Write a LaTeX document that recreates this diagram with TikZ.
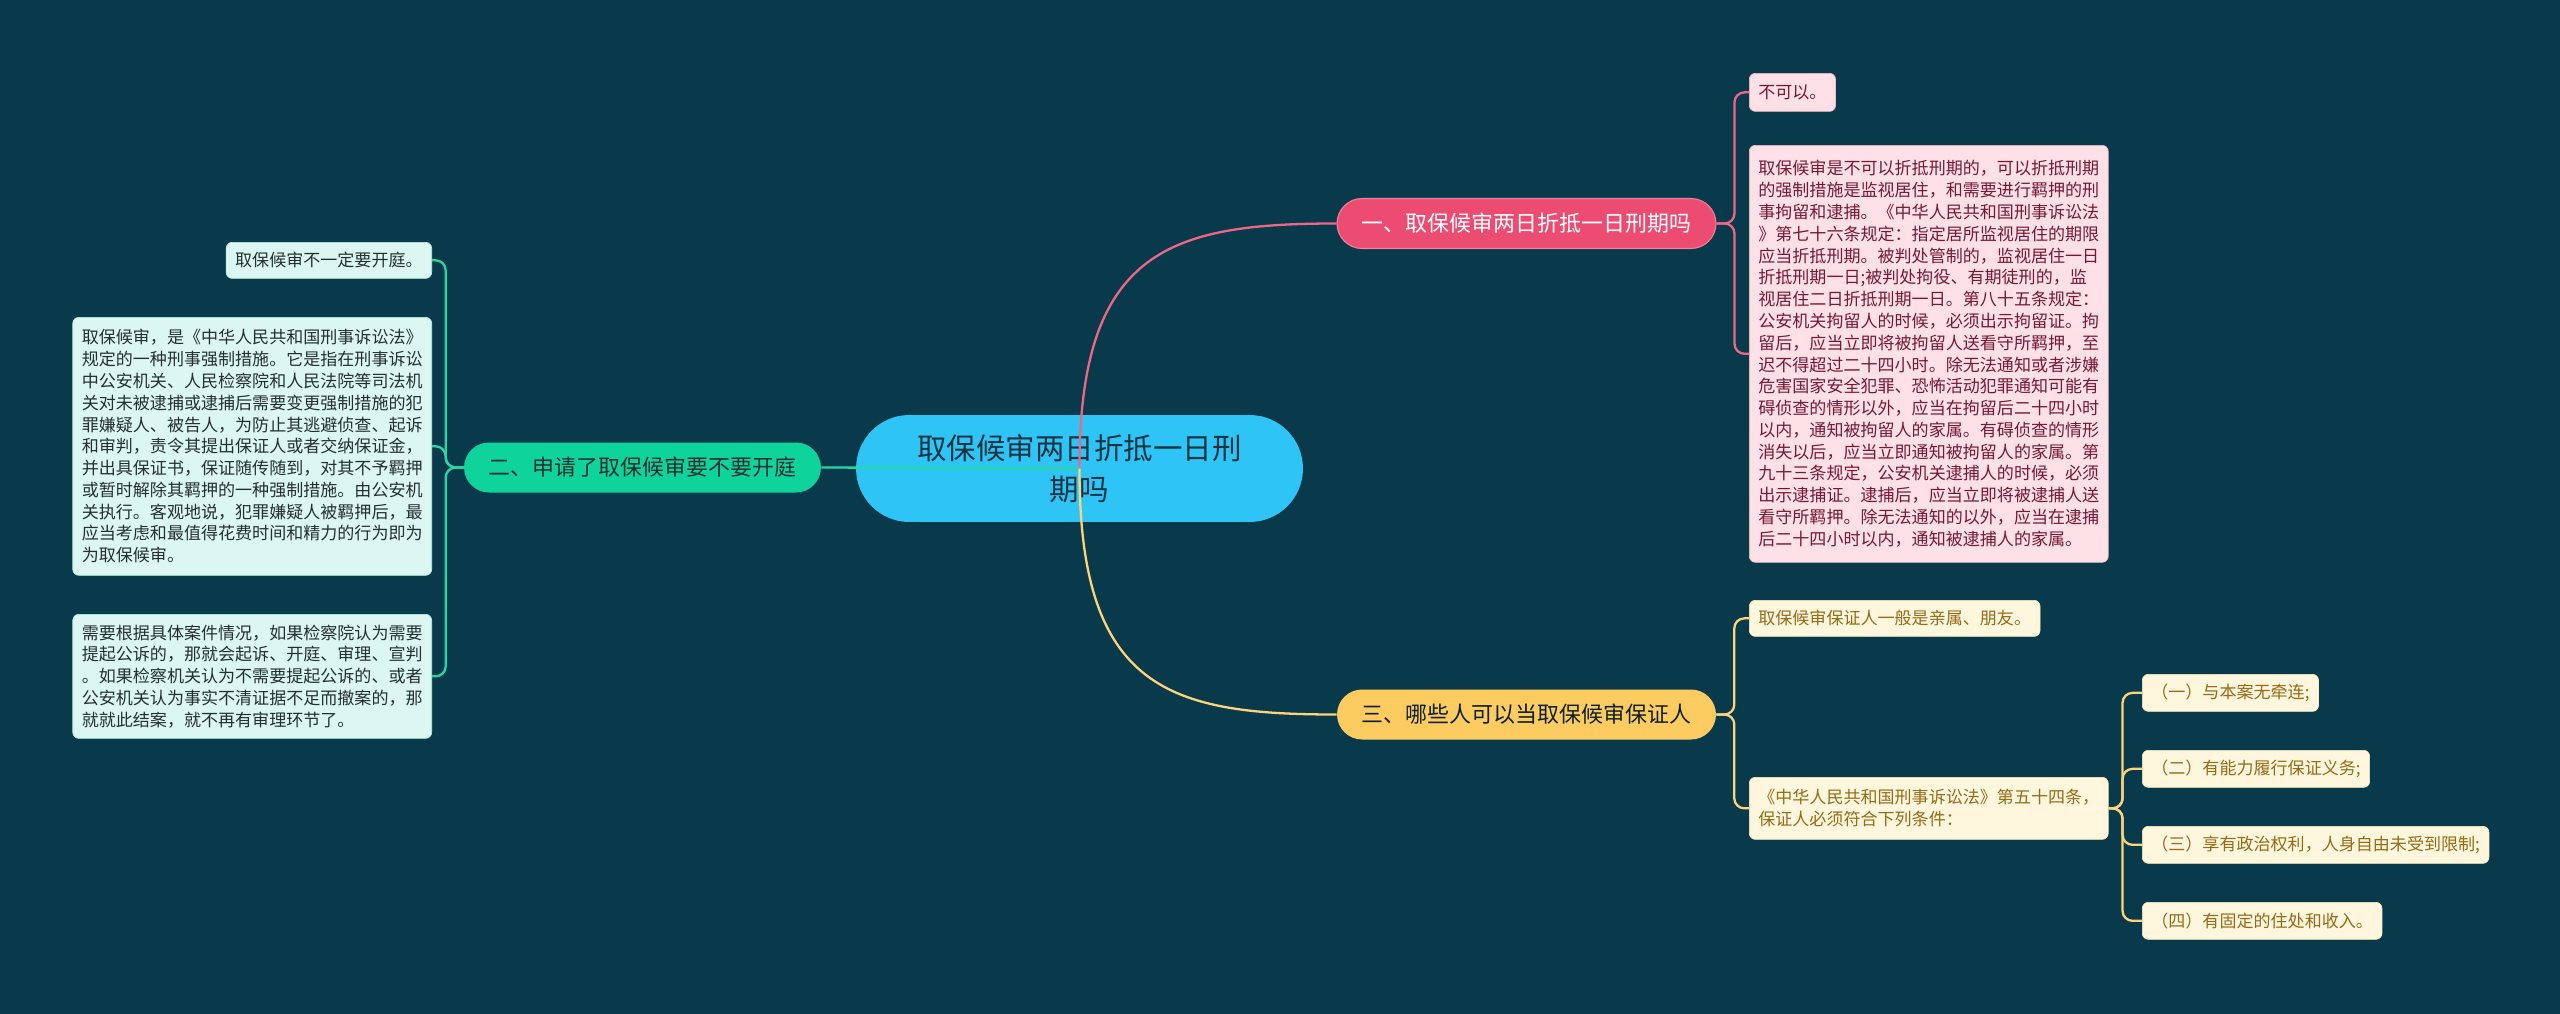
\documentclass[tikz,border=0pt]{standalone}
\usepackage{fontspec}
\setmainfont{Noto Sans CJK SC}
\usetikzlibrary{calc}
\usepackage{xcolor}

\definecolor{bgteal}{RGB}{8,58,76}
\definecolor{rootblue}{RGB}{46,197,246}
\definecolor{rootink}{RGB}{24,52,66}
\definecolor{onepink}{RGB}{236,76,114}
\definecolor{twogreen}{RGB}{14,212,156}
\definecolor{threegold}{RGB}{253,204,96}
\definecolor{pinkleaf}{RGB}{253,225,231}
\definecolor{pinkink}{RGB}{118,24,56}
\definecolor{greenleaf}{RGB}{220,247,241}
\definecolor{greenink}{RGB}{36,48,48}
\definecolor{goldleaf}{RGB}{255,246,222}
\definecolor{goldink}{RGB}{148,108,24}

\tikzset{
  rootnode/.style={fill=rootblue, text=rootink, rounded corners=1.07cm, align=center,
    minimum width=8.94cm, minimum height=2.14cm, font=\fontsize{16.8}{23.2}\selectfont},
  branchnode/.style={rounded corners=0.5cm, minimum height=1.0cm, align=center,
    font=\fontsize{12.5}{15}\selectfont},
  leafnode/.style={rounded corners=0.12cm, align=left, inner xsep=0.18cm, inner ysep=0.1cm,
    font=\fontsize{9.7}{12.4}\selectfont},
  pinkleafnode/.style={leafnode, fill=pinkleaf, draw=onepink!40, line width=0.4pt, text=pinkink},
  greenleafnode/.style={leafnode, fill=greenleaf, draw=twogreen!30, line width=0.4pt, text=greenink},
  goldleafnode/.style={leafnode, fill=goldleaf, draw=threegold!40, line width=0.4pt, text=goldink},
  linkpink/.style={draw=onepink!85!white, line width=1.3pt},
  linkgreen/.style={draw=twogreen!90!white, line width=1.3pt},
  linkgold/.style={draw=threegold!85!white, line width=1.3pt},
}

\begin{document}
\begin{tikzpicture}[x=0.02cm,y=-0.02cm]
		\fill[bgteal] (0,0) rectangle (2560,1014);% background
		\useasboundingbox (0,0) rectangle (2560,1014);

		% root and the three branches
		\node[rootnode] (root) at (1079.5,468.5) {取保候审两日折抵一日刑\\期吗};
		\node[branchnode, fill=onepink, draw=onepink!70!white, line width=0.6pt, text=white,
		  minimum width=7.58cm] (b1) at (1526.5,223.5) {一、取保候审两日折抵一日刑期吗};
		\node[branchnode, fill=twogreen, text=greenink, minimum width=7.14cm] (b2) at (642.5,467.5)
		  {二、申请了取保候审要不要开庭};
		\node[branchnode, fill=threegold, text=rootink!60!black, minimum width=7.58cm] (b3) at (1526.5,714.5)
		  {三、哪些人可以当取保候审保证人};

		% leaves of branch one
		\node[pinkleafnode, anchor=north west, minimum height=0.76cm] (l11) at (1749,73) {不可以。};
		\node[pinkleafnode, anchor=north west, minimum height=8.34cm] (l12) at (1749,145)
		  {取保候审是不可以折抵刑期的，可以折抵刑期\\
		   的强制措施是监视居住，和需要进行羁押的刑\\
		   事拘留和逮捕。《中华人民共和国刑事诉讼法\\
		   》第七十六条规定：指定居所监视居住的期限\\
		   应当折抵刑期。被判处管制的，监视居住一日\\
		   折抵刑期一日;被判处拘役、有期徒刑的，监\\
		   视居住二日折抵刑期一日。第八十五条规定：\\
		   公安机关拘留人的时候，必须出示拘留证。拘\\
		   留后，应当立即将被拘留人送看守所羁押，至\\
		   迟不得超过二十四小时。除无法通知或者涉嫌\\
		   危害国家安全犯罪、恐怖活动犯罪通知可能有\\
		   碍侦查的情形以外，应当在拘留后二十四小时\\
		   以内，通知被拘留人的家属。有碍侦查的情形\\
		   消失以后，应当立即通知被拘留人的家属。第\\
		   九十三条规定，公安机关逮捕人的时候，必须\\
		   出示逮捕证。逮捕后，应当立即将被逮捕人送\\
		   看守所羁押。除无法通知的以外，应当在逮捕\\
		   后二十四小时以内，通知被逮捕人的家属。};

		% leaves of branch two
		\node[greenleafnode, anchor=north east, minimum height=0.72cm] (l21) at (432,242) {取保候审不一定要开庭。};
		\node[greenleafnode, anchor=north east, minimum height=5.16cm] (l22) at (432,317)
		  {取保候审，是《中华人民共和国刑事诉讼法》\\
		   规定的一种刑事强制措施。它是指在刑事诉讼\\
		   中公安机关、人民检察院和人民法院等司法机\\
		   关对未被逮捕或逮捕后需要变更强制措施的犯\\
		   罪嫌疑人、被告人，为防止其逃避侦查、起诉\\
		   和审判，责令其提出保证人或者交纳保证金，\\
		   并出具保证书，保证随传随到，对其不予羁押\\
		   或暂时解除其羁押的一种强制措施。由公安机\\
		   关执行。客观地说，犯罪嫌疑人被羁押后，最\\
		   应当考虑和最值得花费时间和精力的行为即为\\
		   为取保候审。};
		\node[greenleafnode, anchor=north east, minimum height=2.48cm] (l23) at (432,614)
		  {需要根据具体案件情况，如果检察院认为需要\\
		   提起公诉的，那就会起诉、开庭、审理、宣判\\
		   。如果检察机关认为不需要提起公诉的、或者\\
		   公安机关认为事实不清证据不足而撤案的，那\\
		   就就此结案，就不再有审理环节了。};

		% leaves of branch three
		\node[goldleafnode, anchor=north west, minimum height=0.72cm] (l31) at (1749,600)
		  {取保候审保证人一般是亲属、朋友。};
		\node[goldleafnode, anchor=north west, minimum height=1.24cm] (l32) at (1749,777)
		  {《中华人民共和国刑事诉讼法》第五十四条，\\保证人必须符合下列条件：};
		\node[goldleafnode, anchor=north west, minimum height=0.74cm] (s1) at (2142,674) {（一）与本案无牵连;};
		\node[goldleafnode, anchor=north west, minimum height=0.74cm] (s2) at (2142,750) {（二）有能力履行保证义务;};
		\node[goldleafnode, anchor=north west, minimum height=0.74cm] (s3) at (2142,826) {（三）享有政治权利，人身自由未受到限制;};
		\node[goldleafnode, anchor=north west, minimum height=0.74cm] (s4) at (2142,902) {（四）有固定的住处和收入。};

		% connectors
		\draw[linkpink] (root.center) .. controls (1079,250) and (1170,223.5) .. (b1.west);
		\draw[linkgreen] (root.center) -- (b2.east);
		\draw[linkgold] (root.center) .. controls (1079,690) and (1170,714.5) .. (b3.west);

		\foreach \leaf in {l11,l12}{%
		  \draw[linkpink, rounded corners=0.2cm] (b1.east) -- ++(18,0) |- (\leaf.west);
		}
		\foreach \leaf in {l21,l22,l23}{%
		  \draw[linkgreen, rounded corners=0.2cm] (b2.west) -- ++(-18,0) |- (\leaf.east);
		}
		\foreach \leaf in {l31,l32}{%
		  \draw[linkgold, rounded corners=0.2cm] (b3.east) -- ++(18,0) |- (\leaf.west);
		}
		\foreach \leaf in {s1,s2,s3,s4}{% the four conditions
		  \draw[linkgold, rounded corners=0.2cm] (l32.east) -- ++(14,0) |- (\leaf.west);
		}
	  \end{tikzpicture}
\end{document}
